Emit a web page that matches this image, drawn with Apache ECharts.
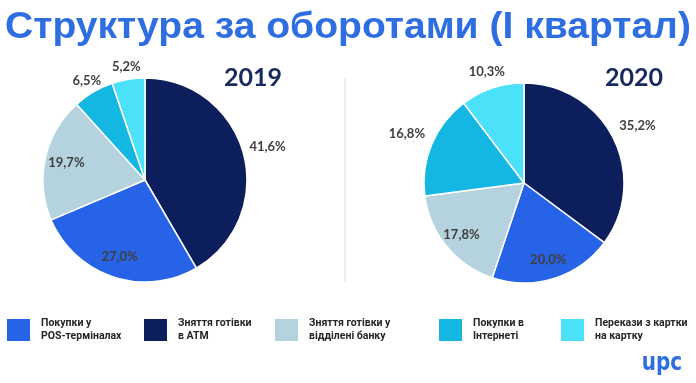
<!DOCTYPE html>
<html><head><meta charset="utf-8">
<script src="https://cdn.jsdelivr.net/npm/echarts@6/dist/echarts.min.js"></script>
<style>html,body{margin:0;padding:0;background:#fff}#c{width:696px;height:383px}</style>
</head><body><div id="c"></div>
<script>
// Slice order (clockwise from 12 o'clock)
const sliceNames = ['Зняття готівки в АТМ','Покупки у POS-терміналах','Зняття готівки у відділені банку','Покупки в Інтернеті','Перекази з картки на картку'];
const values2019 = [41.6, 27.0, 19.7, 6.5, 5.2];
const values2020 = [35.2, 20.0, 17.8, 16.8, 10.3];
const years = ['2019', '2020'];
// Legend order and two-line labels
const legendNames = ['Покупки у POS-терміналах','Зняття готівки в АТМ','Зняття готівки у відділені банку','Покупки в Інтернеті','Перекази з картки на картку'];
const legendLines = [['Покупки у','POS-терміналах'],['Зняття готівки','в АТМ'],['Зняття готівки у','відділені банку'],['Покупки в','Інтернеті'],['Перекази з картки','на картку']];
const titleText = 'Структура за оборотами (І квартал)';

// styles / layout
const sliceColors = {
  'Зняття готівки в АТМ': '#0c1f5c',
  'Покупки у POS-терміналах': '#2763e6',
  'Зняття готівки у відділені банку': '#b4d3df',
  'Покупки в Інтернеті': '#14b6e2',
  'Перекази з картки на картку': '#4be1f8'
};
const place2019 = ['far','in','in','near','near'];
const place2020 = ['far','in','in','far','near'];
const legendLeft = [7, 144, 275, 439, 561];
const numFont = 'Lato, "Open Sans", sans-serif';

function fmt(v) { return v.toFixed(1).replace('.', ',') + '%'; }

function mainPie(values, center, r) {
  return {
    type: 'pie', center: center, radius: [0, r], startAngle: 90, clockwise: true,
    silent: true, label: {show: false}, labelLine: {show: false},
    emphasis: {disabled: true},
    itemStyle: {borderColor: '#ffffff', borderWidth: 1.5},
    data: values.map((v, i) => ({name: sliceNames[i], value: v, itemStyle: {color: sliceColors[sliceNames[i]]}}))
  };
}
function labelRing(values, center, r0, r1, places, which) {
  return {
    type: 'pie', center: center, radius: [r0, r1], startAngle: 90, clockwise: true,
    silent: true, emphasis: {disabled: true}, labelLine: {show: false},
    avoidLabelOverlap: false,
    itemStyle: {color: 'rgba(0,0,0,0)', borderWidth: 0},
    label: {show: true, position: 'inside', formatter: p => fmt(p.value),
      fontFamily: numFont, fontWeight: 'bold', fontSize: 13, color: '#404040'},
    data: values.map((v, i) => ({name: sliceNames[i], value: v, label: {show: places[i] === which}}))
  };
}

const c1 = [145, 180], c2 = [524, 183];
const series = [
  mainPie(values2019, c1, 102),
  mainPie(values2020, c2, 100),
  labelRing(values2019, c1, 53, 102, place2019, 'in'),
  labelRing(values2019, c1, 102, 122, place2019, 'near'),
  labelRing(values2019, c1, 102, 146, place2019, 'far'),
  labelRing(values2020, c2, 56, 100, place2020, 'in'),
  labelRing(values2020, c2, 100, 128, place2020, 'near'),
  labelRing(values2020, c2, 100, 148, place2020, 'far')
];

const legends = legendNames.map((n, i) => ({
  data: [n], left: legendLeft[i], top: 317, padding: 0, orient: 'horizontal',
  itemWidth: 23, itemHeight: 22, icon: 'rect', selectedMode: false,
  itemStyle: {borderWidth: 0},
  formatter: name => legendLines[legendNames.indexOf(name)].join('\n'),
  textStyle: {fontFamily: 'Roboto, "Open Sans", sans-serif', fontWeight: 'bold', fontSize: 10.5,
    color: '#262626', lineHeight: 13, padding: [0, 0, 0, 6]}
}));

const chart = echarts.init(document.getElementById('c'), null, {renderer: 'canvas'});
chart.setOption({
  backgroundColor: '#ffffff',
  animation: false,
  legend: legends,
  series: series,
  graphic: [
    {type: 'text', x: 348, y: 28, scaleX: 1.085, originX: 0, originY: 0,
      style: {text: titleText, align: 'center', verticalAlign: 'middle',
      font: 'bold 36px "Liberation Sans", Arial, sans-serif', fill: '#2f6ee0'}},
    {type: 'text', x: 253, y: 78, style: {text: years[0], align: 'center', verticalAlign: 'middle',
      font: 'bold 25px ' + numFont, fill: '#17295e'}},
    {type: 'text', x: 634, y: 78, style: {text: years[1], align: 'center', verticalAlign: 'middle',
      font: 'bold 25px ' + numFont, fill: '#17295e'}},
    {type: 'line', shape: {x1: 345, y1: 78, x2: 345, y2: 282}, style: {stroke: '#dcdde2', lineWidth: 1}},
    {type: 'text', x: 662, y: 363, scaleY: 1.25, originX: 0, originY: 0,
      style: {text: 'upc', align: 'center', verticalAlign: 'middle',
      font: 'bold 20px "DejaVu Sans", sans-serif', fill: '#2f6ee0'}}
  ]
});
</script></body></html>
